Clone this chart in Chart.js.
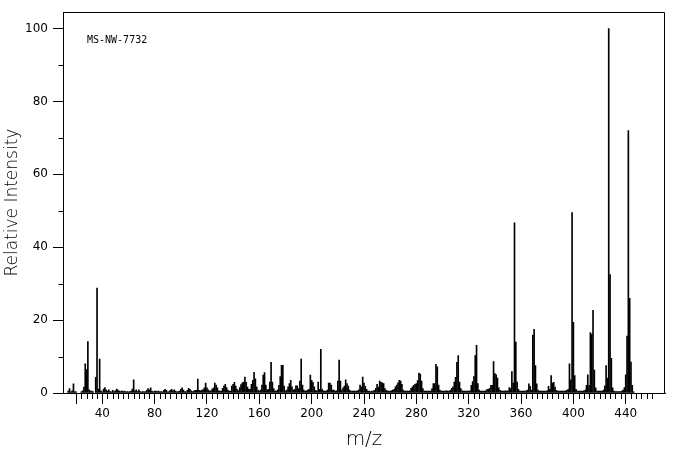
<!DOCTYPE html>
<html>
<head>
<meta charset="utf-8">
<script src="https://cdn.jsdelivr.net/npm/chart.js@4/dist/chart.umd.min.js"></script>
<style>
html,body{margin:0;padding:0;background:#fff;}
#wrap{width:676px;height:455px;}
</style>
</head>
<body>
<div id="wrap"><canvas id="c" width="676" height="455"></canvas></div>
<script>
// m/z of the first value in each block; values follow at consecutive integer m/z
const mzStartA = 14;
const intensityA = [
  0.5,1.2,0.3,0.6,2.5,0.4,0.3,0,0,0,
  0.3,0.6,1.6,8.0,6.4,14.1,0.9,0.5,0.5,0.3,
  0,4.3,28.8,1.1,9.3,0.6,0.3,1.1,1.5,0.9,
  0.5,0.9,0.4,0.3,0.7,0.4,0.6,1.1,0.8,0.5,
  0.4,0.6,0.4,0.5,0.3,0.4,0.3,0.4,0.5,1.1,
  3.6,0.6,0.9,0.4,0.9,0.4,0.3,0.4,0.3,0.4,
  0.7,1.2,0.9,1.4,0.5,0.3,0.5,0.5,0.4,0.5,
  0.3,0.4,0.3,0.7,1.0,0.7,0.3,0.4,0.7,1.0,
  0.6,0.9,0.5,0.3,0.4,0.5
];
const mzStartB = 100;
const intensityB = [
  1.0,1.4,0.8,0.4,0.3,0.7,1.3,1.0,0.6,0.4,
  0.5,0.7,0.7,3.8,0.7,0.6,0.8,0.9,1.4,2.7,
  1.4,0.9,0.5,0.6,1.1,1.4,2.7,2.2,1.4,0.6,
  0.5,0.5,1.3,1.9,2.4,1.5,0.8,0.5,0.5,1.9,
  2.4,2.9,1.9,1.0,0.6,1.5,2.3,2.8,3.0,4.4,
  2.9,1.6,1.0,1.1,2.4,3.5,5.7,3.9,1.7,0.8,
  0.5,0.8,2.2,4.9,5.6,2.2,0.9,1.0,3.0,8.4,
  3.0,1.2,0.6,0.5,0.9,2.1,4.5,7.6,7.6,1.9,
  0.6,0.8,1.7,2.6,3.5,1.7,0.8,1.0,2.0,2.0,
  1.2,3.3,9.3,2.2,0.8,0.5,0.6,0.8,1.0,4.9
];
const mzStartC = 200;
const intensityC = [
  3.5,2.9,1.7,0.7,0.6,3.0,1.0,12.0,1.1,0.6,
  0.5,0.5,0.8,2.7,2.7,2.2,0.8,0.8,0.5,0.6,
  3.3,9.0,3.3,0.8,1.4,1.9,3.6,2.6,1.9,0.8,
  0.5,0.5,0.5,0.5,0.5,0.6,0.9,2.2,1.7,4.4,
  2.7,1.8,1.0,0.5,0.5,0.4,0.5,0.5,0.7,1.3,
  2.4,1.6,3.3,2.9,2.8,2.6,1.2,0.7,0.5,0.5,
  0.5,0.6,0.8,1.0,1.7,2.2,2.8,3.5,3.3,2.4,
  0.8,0.5,0.5,0.5,0.5,0.6,1.3,1.7,2.1,2.4,
  2.6,3.4,5.5,5.2,3.3,1.2,0.5,0.5,0.5,0.5,
  0.5,0.5,1.2,2.6,2.6,7.9,7.2,2.2,0.8,0.5
];
const mzStartD = 300;
const intensityD = [
  0.5,0.5,0.5,0.6,0.5,0.5,0.7,1.3,1.7,3.0,
  4.3,8.4,10.3,3.0,1.2,0.6,0.5,0.5,0.5,0.5,
  0.5,0.6,2.1,3.1,4.5,10.3,13.1,2.6,0.8,0.5,
  0.5,0.5,0.5,0.6,1.0,1.0,1.3,2.1,2.1,8.6,
  5.3,5.0,4.1,1.4,0.7,0.5,0.5,0.5,0.6,0.5,
  0.6,1.5,1.2,5.9,2.7,46.7,14.0,3.0,1.0,0.5,
  0.5,0.5,0.5,0.5,0.6,0.8,2.5,1.8,0.8,15.9,
  17.5,7.5,2.5,0.8,0.5,0.5,0.5,0.5,0.5,0.5,
  0.6,1.8,1.0,4.8,2.7,2.9,1.6,0.7,0.5,0.5,
  0.5,0.5,0.5,0.5,0.6,0.7,1.0,8.0,3.6,49.5
];
const mzStartE = 400;
const intensityE = [
  19.4,4.8,1.0,0.5,0.5,0.5,0.5,0.5,0.6,0.8,
  2.1,5.0,2.1,16.6,16.1,22.7,6.3,1.4,0.5,0.5,
  0.5,0.5,0.5,0.8,2.0,7.5,4.1,100,32.5,9.5,
  1.4,0.5,0.4,0.4,0.4,0.4,0.4,0.5,0.8,1.5,
  5.0,15.6,72.0,26.0,8.5,2.1,0.3
];

const xTickLabels = [40,80,120,160,200,240,280,320,360,400,440];
const yTickLabels = [0,20,40,60,80,100];
const yMinorTicks = [10,30,50,70,90];
const xMinorFirst = 20, xMinorLast = 460, xMinorStep = 4;
const sampleId = 'MS-NW-7732';

const blocks = [
  [mzStartA, intensityA],[mzStartB, intensityB],[mzStartC, intensityC],
  [mzStartD, intensityD],[mzStartE, intensityE]
];
const points = [];
blocks.forEach(([start, vals]) => {
  vals.forEach((v, i) => { if (v > 0) points.push({x: start + i, y: v}); });
});

const FONT = "'DejaVu Sans', sans-serif";

const framePlugin = {
  id: 'frame',
  afterDraw(chart) {
    const ctx = chart.ctx, xs = chart.scales.x, ys = chart.scales.y, a = chart.chartArea;
    ctx.save();
    ctx.strokeStyle = '#000';
    ctx.lineWidth = 1;
    ctx.beginPath();
    for (let v = xMinorFirst; v <= xMinorLast; v += xMinorStep) {
      if (xTickLabels.includes(v)) continue;
      const px = Math.round(xs.getPixelForValue(v)) + 0.5;
      const len = (v === xMinorFirst) ? 11 : 6;
      ctx.moveTo(px, a.bottom);
      ctx.lineTo(px, a.bottom + len);
    }
    const left = Math.round(a.left) + 0.5;
    yMinorTicks.forEach(v => {
      const py = Math.round(ys.getPixelForValue(v)) + 0.5;
      ctx.moveTo(left - 5, py);
      ctx.lineTo(left, py);
    });
    const top = Math.round(a.top) + 0.5;
    const right = Math.round(a.right) - 0.5;
    ctx.moveTo(left, top);
    ctx.lineTo(right, top);
    ctx.moveTo(right, top);
    ctx.lineTo(right, a.bottom);
    ctx.stroke();
    ctx.fillStyle = '#000';
    ctx.font = "10px 'DejaVu Sans Mono', monospace";
    ctx.textBaseline = 'middle';
    ctx.textAlign = 'left';
    ctx.fillText(sampleId, 87, 40);
    ctx.restore();
  }
};

new Chart(document.getElementById('c'), {
  type: 'bar',
  data: {
    datasets: [{
      data: points,
      backgroundColor: '#000',
      borderWidth: 0,
      barThickness: 1,
      grouped: false
    }]
  },
  options: {
    responsive: false,
    animation: false,
    devicePixelRatio: 1,
    layout: {padding: {left: 0, right: 11, top: 9, bottom: 0}},
    plugins: {legend: {display: false}, tooltip: {enabled: false}},
    scales: {
      x: {
        type: 'linear',
        min: 10, max: 470,
        offset: false,
        afterBuildTicks: s => { s.ticks = xTickLabels.map(v => ({value: v})); },
        afterFit: s => { s.height = 62; },
        grid: {display: true, drawOnChartArea: false, drawTicks: true, tickLength: 11, color: '#000', tickColor: '#000', offset: false},
        border: {display: true, color: '#000', width: 1},
        ticks: {color: '#000', font: {family: FONT, size: 12}, padding: 3, maxRotation: 0, autoSkip: false},
        title: {display: true, text: 'm/z', color: '#000', font: {family: FONT, size: 20, weight: 200}, padding: {top: 0, bottom: 3}}
      },
      y: {
        min: 0, max: 104.5,
        afterBuildTicks: s => { s.ticks = yTickLabels.map(v => ({value: v})); },
        afterFit: s => { s.width = 63; },
        grid: {display: true, drawOnChartArea: false, drawTicks: true, tickLength: 10, color: '#000', tickColor: '#000'},
        border: {display: true, color: '#000', width: 1},
        ticks: {color: '#000', font: {family: FONT, size: 12}, padding: 5},
        title: {display: true, text: 'Relative Intensity', color: '#000', font: {family: FONT, size: 17, weight: 200}, padding: {top: 2, bottom: 0}}
      }
    }
  },
  plugins: [framePlugin]
});
</script>
</body>
</html>
